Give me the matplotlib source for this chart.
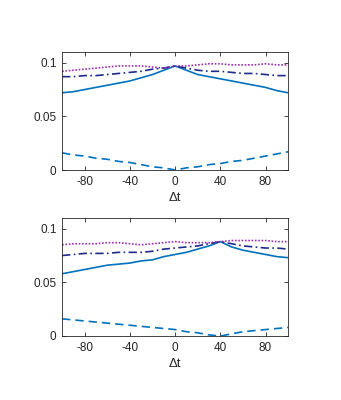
import numpy as np
import matplotlib.pyplot as plt

plt.rcParams['font.family'] = ['Liberation Sans', 'DejaVu Sans']
plt.rcParams['axes.unicode_minus'] = False

dt = np.arange(-100, 101, 10)

# panel 1 (peak at 0)
a_solid = [0.072, 0.073, 0.075, 0.077, 0.079, 0.081, 0.083, 0.086, 0.089, 0.093, 0.097,
           0.093, 0.089, 0.087, 0.085, 0.083, 0.081, 0.079, 0.077, 0.074, 0.072]
a_dash = [0.016, 0.014, 0.013, 0.011, 0.010, 0.008, 0.007, 0.005, 0.003, 0.002, 0.0,
          0.002, 0.003, 0.005, 0.006, 0.008, 0.009, 0.011, 0.013, 0.015, 0.017]
a_dashdot = [0.087, 0.087, 0.088, 0.088, 0.089, 0.090, 0.091, 0.092, 0.094, 0.095, 0.097,
             0.095, 0.093, 0.092, 0.092, 0.091, 0.090, 0.090, 0.089, 0.088, 0.088]
a_dot = [0.092, 0.093, 0.094, 0.095, 0.096, 0.097, 0.097, 0.097, 0.096, 0.095, 0.097,
         0.097, 0.098, 0.099, 0.099, 0.098, 0.098, 0.098, 0.099, 0.098, 0.098]

# panel 2 (peak at 40)
b_solid = [0.058, 0.060, 0.062, 0.064, 0.066, 0.067, 0.068, 0.070, 0.071, 0.074, 0.076,
           0.078, 0.081, 0.084, 0.088, 0.083, 0.080, 0.078, 0.076, 0.074, 0.073]
b_dash = [0.016, 0.015, 0.014, 0.013, 0.012, 0.011, 0.010, 0.009, 0.008, 0.007, 0.006,
          0.004, 0.003, 0.001, 0.0, 0.002, 0.004, 0.005, 0.006, 0.007, 0.008]
b_dashdot = [0.075, 0.076, 0.077, 0.077, 0.077, 0.078, 0.078, 0.078, 0.079, 0.081, 0.082,
             0.083, 0.084, 0.086, 0.088, 0.086, 0.084, 0.083, 0.082, 0.082, 0.081]
b_dot = [0.085, 0.086, 0.086, 0.086, 0.087, 0.087, 0.086, 0.085, 0.086, 0.087, 0.088,
         0.087, 0.087, 0.087, 0.088, 0.089, 0.089, 0.089, 0.089, 0.088, 0.088]

xticks = [-80, -40, 0, 40, 80]
yticks = [0, 0.05, 0.1]
ytick_labels = ['0', '0.05', '0.1']

blue = '#0072BD'
navy = '#1f2b8a'
purple = '#9932b0'

fig = plt.figure(figsize=(3.41, 4.0), dpi=100)
panels = [(0.575, a_solid, a_dash, a_dashdot, a_dot),
          (0.16, b_solid, b_dash, b_dashdot, b_dot)]

for bottom, s, d, dd, dot in panels:
    ax = fig.add_axes([0.182, bottom, 0.663, 0.295])
    ax.plot(dt, s, color=blue, lw=1.2, ls='-')
    ax.plot(dt, d, color=blue, lw=1.2, ls=(0, (5, 3)))
    ax.plot(dt, dd, color=navy, lw=1.2, ls=(0, (5, 2, 1, 2)))
    ax.plot(dt, dot, color=purple, lw=1.2, ls=(0, (1, 1)))
    ax.set_xlim(-100, 100)
    ax.set_ylim(0, 0.11)
    ax.set_xticks(xticks)
    ax.set_yticks(yticks)
    ax.set_yticklabels(ytick_labels)
    ax.tick_params(direction='in', top=True, right=True, labelsize=8.5,
                   colors='#262626', length=3, width=0.6, pad=4)
    for sp in ax.spines.values():
        sp.set_color('#262626')
        sp.set_linewidth(0.6)
    ax.set_xlabel('Δt', fontsize=9.5, color='#262626', labelpad=3)

fig.savefig('out.png', dpi=100)
